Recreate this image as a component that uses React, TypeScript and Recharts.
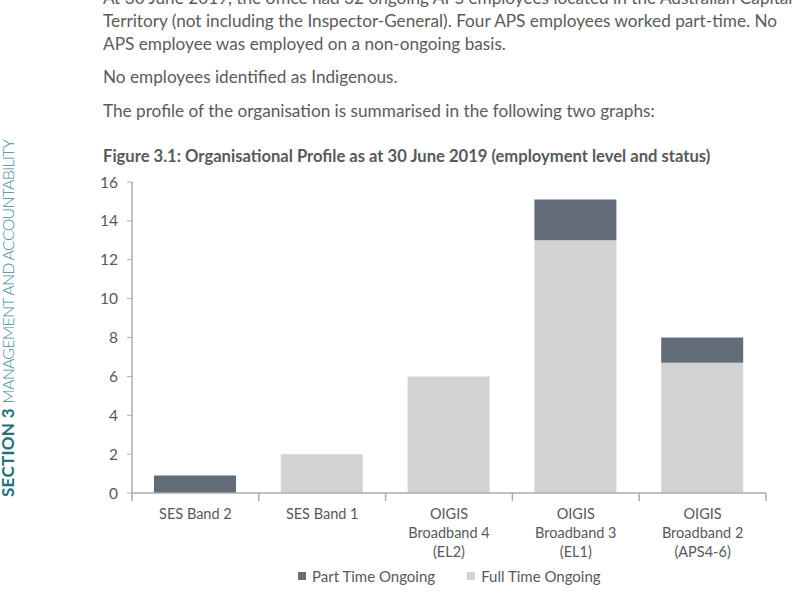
import { BarChart, Bar, XAxis, YAxis, Legend } from 'recharts';

/* Figure 3.1 — organisational profile, stacked by employment status */

const categories = [
  'SES Band 2',
  'SES Band 1',
  'OIGIS\nBroadband 4\n(EL2)',
  'OIGIS\nBroadband 3\n(EL1)',
  'OIGIS\nBroadband 2\n(APS4-6)',
];
const fullTimeOngoing = [0, 2, 6, 13, 6.7];
const partTimeOngoing = [0.9, 0, 0, 2.1, 1.3];
const yTicks = [0, 2, 4, 6, 8, 10, 12, 14, 16];

const seriesNames = ['Part Time Ongoing', 'Full Time Ongoing'];
const PART_COLOR = '#636d79';
const FULL_COLOR = '#d1d2d4';
const AXIS_COLOR = '#a9abae';
const TEXT_COLOR = '#58595b';
const FONT = 'Lato, "Open Sans", sans-serif';

const CHART_W = 800;
const CHART_H = 600;
const MARGIN = { top: 182, right: 34, bottom: 47, left: 0 };
const Y_AXIS_W = 132;
const BAND = (CHART_W - MARGIN.left - Y_AXIS_W - MARGIN.right) / categories.length;

const data = categories.map((name, i) => ({
  name,
  full: fullTimeOngoing[i],
  part: partTimeOngoing[i],
}));

function CategoryTick({ x, y, payload, index }: any) {
  const lines = String(payload.value).split('\n');
  return (
    <g>
      <line x1={x - BAND / 2} x2={x - BAND / 2} y1={y} y2={y + 8} stroke={AXIS_COLOR} strokeWidth={1.5} />
      {index === categories.length - 1 && (
        <line x1={x + BAND / 2} x2={x + BAND / 2} y1={y} y2={y + 8} stroke={AXIS_COLOR} strokeWidth={1.5} />
      )}
      <text x={x} y={y + 26} textAnchor="middle" fill={TEXT_COLOR} fontSize={14.5} fontFamily={FONT}>
        {lines.map((l, i) => (
          <tspan key={i} x={x} dy={i === 0 ? 0 : 19}>{l}</tspan>
        ))}
      </text>
    </g>
  );
}

function LegendContent() {
  const colors = [PART_COLOR, FULL_COLOR];
  return (
    <div style={{ display: 'flex', alignItems: 'center', fontFamily: FONT, fontSize: 15, color: TEXT_COLOR, whiteSpace: 'nowrap' }}>
      {seriesNames.map((n, i) => (
        <div key={n} style={{ display: 'flex', alignItems: 'center', marginRight: 32 }}>
          <span style={{ width: 8, height: 8, background: colors[i], display: 'inline-block', marginRight: 6 }} />
          <span>{n}</span>
        </div>
      ))}
    </div>
  );
}

const bodyText: React.CSSProperties = {
  position: 'absolute',
  left: 103,
  fontFamily: FONT,
  fontSize: 17.2,
  color: '#5a5b5d',
  whiteSpace: 'nowrap',
  lineHeight: '23px',
};

export default function App() {
  return (
    <div style={{ position: 'absolute', left: 0, top: 0, width: 800, height: 600, background: '#fff', overflow: 'hidden' }}>
      <div style={{ ...bodyText, top: -14 }}>
        At 30 June 2019, the office had 32 ongoing APS employees located in the Australian Capital
        <br />
        Territory (not including the Inspector-General). Four APS employees worked part-time. No
        <br />
        APS employee was employed on a non-ongoing basis.
      </div>
      <div style={{ ...bodyText, top: 65 }}>No employees identified as Indigenous.</div>
      <div style={{ ...bodyText, top: 99 }}>The profile of the organisation is summarised in the following two graphs:</div>

      <div
        style={{
          position: 'absolute',
          left: -3,
          top: 497,
          transformOrigin: 'top left',
          transform: 'rotate(-90deg)',
          whiteSpace: 'nowrap',
          fontFamily: FONT,
          fontSize: 17,
          color: '#3f8d98',
        }}
      >
        <span style={{ fontWeight: 700, color: '#24707b', letterSpacing: 0.3 }}>SECTION 3</span>{' '}
        <span style={{ fontWeight: 300, fontSize: 16, letterSpacing: -0.8 }}>MANAGEMENT AND ACCOUNTABILITY</span>
      </div>

      <div
        style={{
          position: 'absolute',
          left: 103,
          top: 146,
          fontFamily: FONT,
          fontWeight: 700,
          fontSize: 16.6,
          color: '#58595b',
          whiteSpace: 'nowrap',
        }}
      >
        Figure 3.1: Organisational Profile as at 30 June 2019 (employment level and status)
      </div>

      <div style={{ position: 'absolute', left: 0, top: 0 }}>
        <BarChart width={CHART_W} height={CHART_H} data={data} margin={MARGIN}>
          <XAxis
            dataKey="name"
            interval={0}
            height={60}
            tickSize={0}
            tickMargin={0}
            tick={<CategoryTick />}
            axisLine={{ stroke: AXIS_COLOR, strokeWidth: 1.5 }}
            tickLine={false}
          />
          <YAxis
            width={Y_AXIS_W}
            domain={[0, 16]}
            ticks={yTicks}
            interval={0}
            tickSize={5}
            tickMargin={9}
            axisLine={{ stroke: AXIS_COLOR, strokeWidth: 1.5 }}
            tickLine={{ stroke: AXIS_COLOR, strokeWidth: 1 }}
            tick={{ fill: TEXT_COLOR, fontSize: 15.5, fontFamily: FONT }}
          />
          <Legend
            layout="horizontal"
            verticalAlign="middle"
            align="center"
            content={<LegendContent />}
            wrapperStyle={{ top: 567, left: 298, width: 360 }}
          />
          <Bar dataKey="full" name={seriesNames[1]} stackId="a" fill={FULL_COLOR} barSize={82} isAnimationActive={false} />
          <Bar dataKey="part" name={seriesNames[0]} stackId="a" fill={PART_COLOR} barSize={82} isAnimationActive={false} />
        </BarChart>
      </div>
    </div>
  );
}
